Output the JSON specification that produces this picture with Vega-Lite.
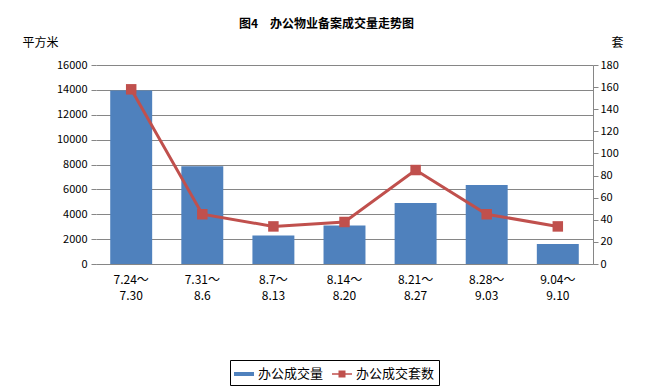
{
  "$schema": "https://vega.github.io/schema/vega-lite/v6.json",
  "width": 497,
  "height": 199,
  "autosize": {"type": "none"},
  "padding": {"left": 96, "top": 65, "right": 59, "bottom": 124},
  "background": "white",
  "config": {
    "view": {"stroke": null},
    "font": "Noto Sans CJK SC",
    "axis": {"labelFont": "Noto Sans CJK SC", "titleFont": "Noto Sans CJK SC", "labelColor": "#000", "titleColor": "#000"}
  },
  "title": {
    "text": "图4　办公物业备案成交量走势图",
    "fontSize": 12,
    "fontWeight": "bold",
    "font": "Noto Sans CJK SC",
    "anchor": "middle",
    "frame": "group",
    "dx": -18,
    "offset": 10,
    "dy": 5
  },
  "data": {
    "values": [
      {"period": "7.24～|7.30", "area": 13950, "count": 158, "s1": "办公成交量", "s2": "办公成交套数"},
      {"period": "7.31～|8.6", "area": 7850, "count": 45, "s1": "办公成交量", "s2": "办公成交套数"},
      {"period": "8.7～|8.13", "area": 2300, "count": 34, "s1": "办公成交量", "s2": "办公成交套数"},
      {"period": "8.14～|8.20", "area": 3100, "count": 38, "s1": "办公成交量", "s2": "办公成交套数"},
      {"period": "8.21～|8.27", "area": 4900, "count": 85, "s1": "办公成交量", "s2": "办公成交套数"},
      {"period": "8.28～|9.03", "area": 6350, "count": 45, "s1": "办公成交量", "s2": "办公成交套数"},
      {"period": "9.04～|9.10", "area": 1600, "count": 34, "s1": "办公成交量", "s2": "办公成交套数"}
    ]
  },
  "encoding": {
    "x": {
      "field": "period",
      "type": "nominal",
      "sort": null,
      "scale": {"paddingInner": 0.41, "paddingOuter": 0.2},
      "axis": {
        "title": null,
        "labelAngle": 0,
        "labelExpr": "split(datum.label, '|')",
        "labelFontSize": 12,
        "labelLineHeight": 16,
        "labelPadding": 10,
        "ticks": false,
        "domainColor": "#868686",
        "labelFont": "Noto Sans CJK SC"
      }
    }
  },
  "layer": [
    {
      "mark": {"type": "bar", "color": "#4F81BD"},
      "encoding": {
        "y": {
          "field": "area",
          "type": "quantitative",
          "scale": {"domain": [0, 16000], "nice": false},
          "axis": {
            "title": "平方米",
            "titleAngle": 0,
            "titleX": -56,
            "titleY": -23,
            "titleAlign": "center",
            "titleBaseline": "middle",
            "titleFontWeight": "normal",
            "titleFontSize": 12,
            "format": "d",
            "values": [0, 2000, 4000, 6000, 8000, 10000, 12000, 14000, 16000],
            "labelFontSize": 11,
            "labelPadding": 4,
            "domain": false,
            "tickColor": "#868686",
            "tickSize": 5,
            "grid": true,
            "gridColor": "#868686",
            "gridWidth": 1
          }
        },
        "fill": {
          "field": "s1",
          "type": "nominal",
          "scale": {"domain": ["办公成交量", "办公成交套数"], "range": ["#4F81BD", "#C0504D"]},
          "legend": {
            "title": null,
            "orient": "none",
            "legendX": 134,
            "legendY": 295,
            "direction": "horizontal",
            "strokeColor": "#000",
            "padding": 4,
            "labelFontSize": 13,
            "labelFont": "Noto Sans CJK SC",
            "symbolSize": 400,
            "columnPadding": 8,
            "encode": {
              "symbols": {
                "update": {
                  "shape": {"signal": "datum.value === '办公成交量' ? 'M-1,-0.2H1V0.2H-1Z' : 'M-1,-0.08H-0.35V-0.35H0.35V-0.08H1V0.08H0.35V0.35H-0.35V0.08H-1Z'"},
                  "strokeWidth": {"value": 0}
                }
              }
            }
          }
        }
      }
    },
    {
      "mark": {"type": "line", "color": "#C0504D", "strokeWidth": 3, "point": {"shape": "square", "size": 110, "filled": true, "color": "#C0504D"}},
      "encoding": {
        "y": {
          "field": "count",
          "type": "quantitative",
          "scale": {"domain": [0, 180], "nice": false},
          "axis": {
            "orient": "right",
            "title": "套",
            "titleAngle": 0,
            "titleX": 24,
            "titleY": -23,
            "titleAlign": "center",
            "titleBaseline": "middle",
            "titleFontWeight": "normal",
            "titleFontSize": 12,
            "values": [0, 20, 40, 60, 80, 100, 120, 140, 160, 180],
            "labelFontSize": 11,
            "labelPadding": 2,
            "domainColor": "#868686",
            "tickColor": "#868686",
            "tickSize": 5,
            "grid": false
          }
        }
      }
    }
  ],
  "resolve": {"scale": {"y": "independent"}}
}
